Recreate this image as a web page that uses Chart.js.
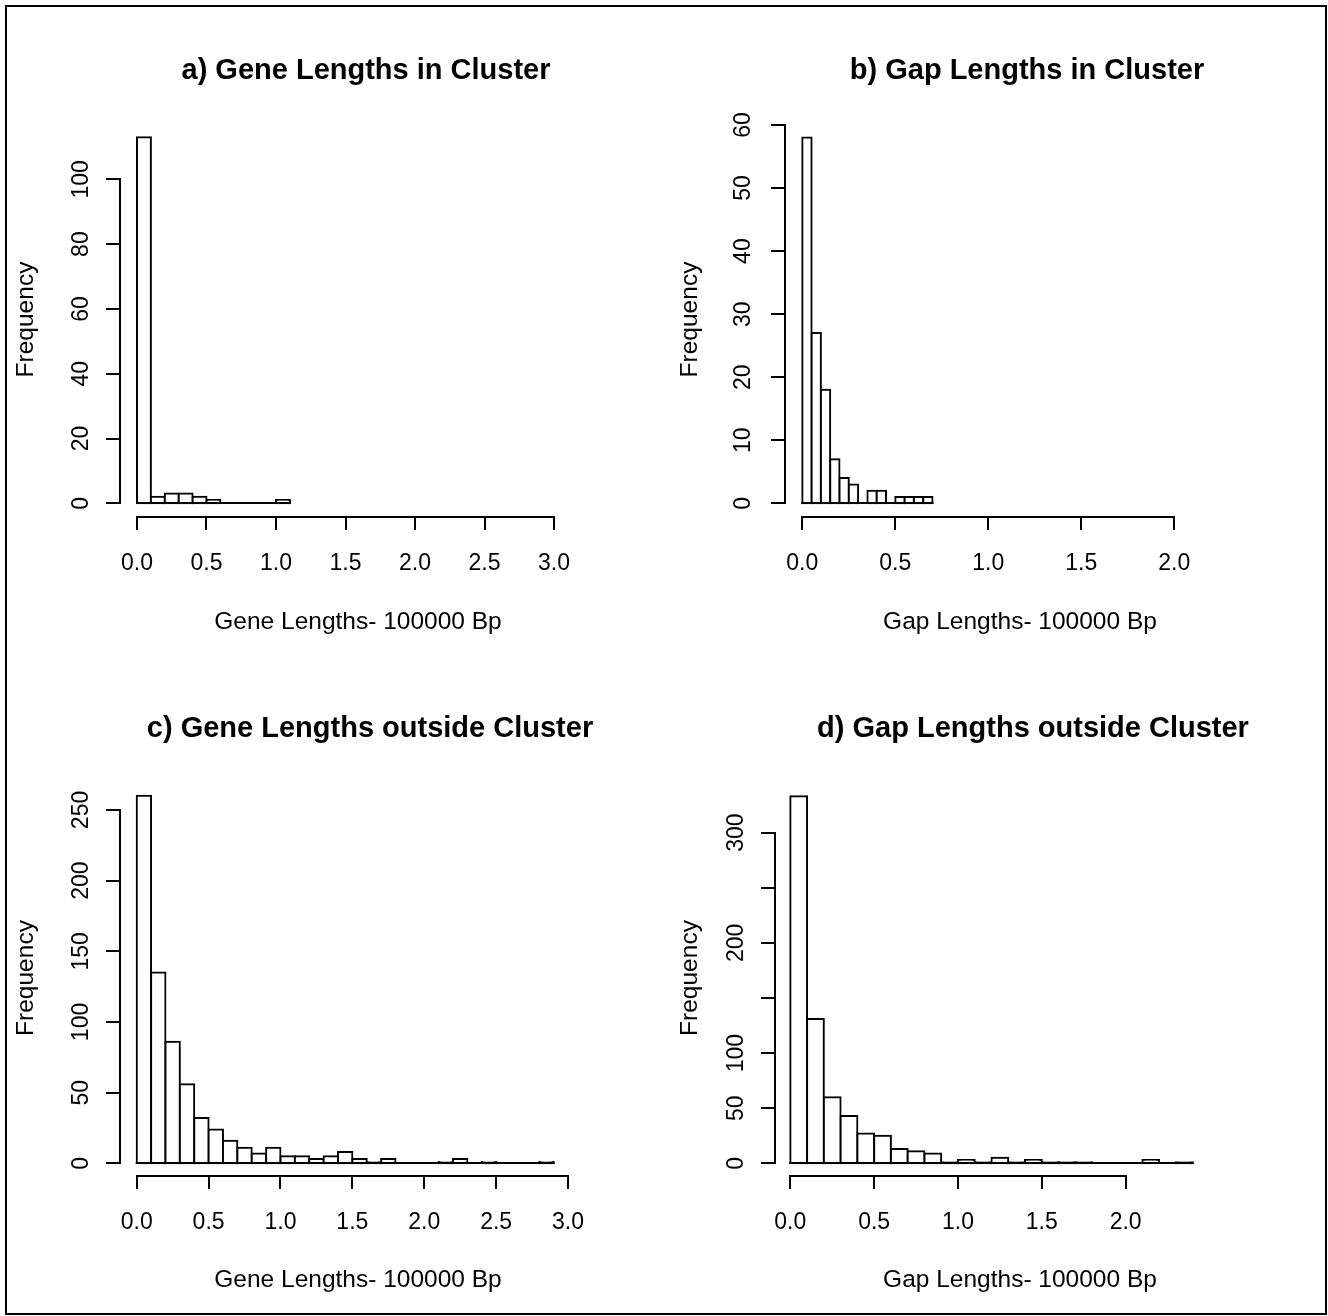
<!DOCTYPE html>
<html>
<head>
<meta charset="utf-8">
<script src="https://cdn.jsdelivr.net/npm/chart.js@4.4.0/dist/chart.umd.min.js"></script>
<style>
  html, body { margin: 0; padding: 0; background: #fff; }
  #page { position: relative; width: 1328px; height: 1316px; overflow: hidden; }
  #frame { position: absolute; left: 5px; top: 5px; width: 1318px; height: 1306px; border: 2px solid #000; }
  canvas { position: absolute; }
</style>
</head>
<body>
<div id="page">
  <div id="frame"></div>
  <canvas id="panelA" width="664" height="658" style="left:0;top:0"></canvas>
  <canvas id="panelB" width="664" height="658" style="left:664px;top:0"></canvas>
  <canvas id="panelC" width="664" height="658" style="left:0;top:658px"></canvas>
  <canvas id="panelD" width="664" height="658" style="left:664px;top:658px"></canvas>
</div>
<script>
// a) gene lengths in cluster (units of 100000 bp)
const geneInBreaks = [0, 0.1, 0.2, 0.3, 0.4, 0.5, 0.6, 0.7, 0.8, 0.9, 1.0, 1.1];
const geneInCounts = [113, 2, 3, 3, 2, 1, 0, 0, 0, 0, 1];
const geneInXTicks = [0, 0.5, 1, 1.5, 2, 2.5, 3];
const geneInXLabels = ['0.0', '0.5', '1.0', '1.5', '2.0', '2.5', '3.0'];
const geneInYTicks = [0, 20, 40, 60, 80, 100];
const geneInYLabels = ['0', '20', '40', '60', '80', '100'];

// b) gap lengths in cluster
const gapInBreaks = [0, 0.05, 0.1, 0.15, 0.2, 0.25, 0.3, 0.35, 0.4, 0.45, 0.5, 0.55, 0.6, 0.65, 0.7];
const gapInCounts = [58, 27, 18, 7, 4, 3, 0, 2, 2, 0, 1, 1, 1, 1];
const gapInXTicks = [0, 0.5, 1, 1.5, 2];
const gapInXLabels = ['0.0', '0.5', '1.0', '1.5', '2.0'];
const gapInYTicks = [0, 10, 20, 30, 40, 50, 60];
const gapInYLabels = ['0', '10', '20', '30', '40', '50', '60'];

// c) gene lengths outside cluster
const geneOutBreaks = [0, 0.1, 0.2, 0.3, 0.4, 0.5, 0.6, 0.7, 0.8, 0.9, 1.0, 1.1, 1.2, 1.3, 1.4,
  1.5, 1.6, 1.7, 1.8, 1.9, 2.0, 2.1, 2.2, 2.3, 2.4, 2.5, 2.6, 2.7, 2.8, 2.9];
const geneOutCounts = [260, 135, 86, 56, 32, 24, 16, 11, 7, 11, 5, 5, 3, 5, 8,
  3, 1, 3, 0, 0, 0, 1, 3, 0, 1, 0, 0, 0, 1];
const geneOutXTicks = [0, 0.5, 1, 1.5, 2, 2.5, 3];
const geneOutXLabels = ['0.0', '0.5', '1.0', '1.5', '2.0', '2.5', '3.0'];
const geneOutYTicks = [0, 50, 100, 150, 200, 250];
const geneOutYLabels = ['0', '50', '100', '150', '200', '250'];

// d) gap lengths outside cluster
const gapOutBreaks = [0, 0.1, 0.2, 0.3, 0.4, 0.5, 0.6, 0.7, 0.8, 0.9, 1.0, 1.1, 1.2, 1.3, 1.4,
  1.5, 1.6, 1.7, 1.8, 1.9, 2.0, 2.1, 2.2, 2.3, 2.4];
const gapOutCounts = [333, 131, 60, 43, 27, 25, 13, 11, 9, 1, 3, 1, 5, 1, 3,
  1, 1, 1, 0, 0, 0, 3, 0, 1];
const gapOutXTicks = [0, 0.5, 1, 1.5, 2];
const gapOutXLabels = ['0.0', '0.5', '1.0', '1.5', '2.0'];
const gapOutYTicks = [0, 50, 100, 150, 200, 250, 300];
const gapOutYLabels = ['0', '50', '100', '', '200', '', '300']; // R drops the crowded ones

const FONT = '"Liberation Sans", Arial, sans-serif';

// R base-graphics style axes: detached lines spanning first..last tick, outward ticks
function rAxes(cfg) {
  return {
    id: 'rAxes',
    afterDatasetsDraw(chart) {
      const { ctx, chartArea: area, scales: { x, y } } = chart;
      const snap = v => Math.round(v);
      ctx.save();
      ctx.strokeStyle = '#000';
      ctx.fillStyle = '#000';
      ctx.lineWidth = 2;

      // histogram baseline (zero-count bins show up as a flat line in R)
      const y0 = snap(y.getPixelForValue(0));
      ctx.beginPath();
      ctx.moveTo(x.getPixelForValue(cfg.breaks[0]) - 1, y0);
      ctx.lineTo(x.getPixelForValue(cfg.breaks[cfg.breaks.length - 1]) + 1, y0);
      ctx.stroke();

      // x axis
      const ax = snap(area.bottom);
      ctx.beginPath();
      ctx.moveTo(snap(x.getPixelForValue(cfg.xTicks[0])) - 1, ax);
      ctx.lineTo(snap(x.getPixelForValue(cfg.xTicks[cfg.xTicks.length - 1])) + 1, ax);
      cfg.xTicks.forEach(v => {
        const px = snap(x.getPixelForValue(v));
        ctx.moveTo(px, ax);
        ctx.lineTo(px, ax + 13);
      });
      ctx.stroke();
      ctx.font = '23px ' + FONT;
      ctx.textAlign = 'center';
      ctx.textBaseline = 'middle';
      cfg.xTicks.forEach((v, i) => ctx.fillText(cfg.xLabels[i], x.getPixelForValue(v), area.bottom + 47));

      // y axis
      const ay = snap(area.left);
      ctx.beginPath();
      ctx.moveTo(ay, snap(y.getPixelForValue(cfg.yTicks[0])) + 1);
      ctx.lineTo(ay, snap(y.getPixelForValue(cfg.yTicks[cfg.yTicks.length - 1])) - 1);
      cfg.yTicks.forEach(v => {
        const py = snap(y.getPixelForValue(v));
        ctx.moveTo(ay, py);
        ctx.lineTo(ay - 14, py);
      });
      ctx.stroke();
      cfg.yTicks.forEach((v, i) => {
        if (!cfg.yLabels[i]) return;
        ctx.save();
        ctx.translate(area.left - cfg.yLabelGap, y.getPixelForValue(v));
        ctx.rotate(-Math.PI / 2);
        ctx.fillText(cfg.yLabels[i], 0, 0);
        ctx.restore();
      });

      // axis titles and main title
      ctx.font = '24.5px ' + FONT;
      ctx.fillText(cfg.xTitle, cfg.midX, 622);
      ctx.save();
      ctx.translate(26, (area.top + area.bottom) / 2);
      ctx.rotate(-Math.PI / 2);
      ctx.fillText('Frequency', 0, 0);
      ctx.restore();
      ctx.font = 'bold 29px ' + FONT;
      ctx.fillText(cfg.title, cfg.titleX, 71);
      ctx.restore();
    }
  };
}

function histogram(id, cfg) {
  const bins = cfg.counts.map((c, i) => ({ x: (cfg.breaks[i] + cfg.breaks[i + 1]) / 2, y: c }));
  return new Chart(document.getElementById(id), {
    type: 'bar',
    data: {
      datasets: [{
        data: bins,
        backgroundColor: '#fff',
        borderColor: '#000',
        borderWidth: 2,
        borderSkipped: false,
        inflateAmount: 1,
        barPercentage: 1,
        categoryPercentage: 1
      }]
    },
    options: {
      responsive: false,
      animation: false,
      events: [],
      layout: { padding: cfg.pad },
      plugins: { legend: { display: false }, tooltip: { enabled: false } },
      scales: {
        x: {
          type: 'linear', display: false, offset: false,
          min: cfg.xRange[0], max: cfg.xRange[1],
          afterBuildTicks: s => { s.ticks = cfg.xTicks.map(v => ({ value: v })); }
        },
        y: {
          type: 'linear', display: false,
          min: cfg.yRange[0], max: cfg.yRange[1],
          afterBuildTicks: s => { s.ticks = cfg.yTicks.map(v => ({ value: v })); }
        }
      }
    },
    plugins: [rAxes(cfg)]
  });
}

histogram('panelA', {
  title: 'a) Gene Lengths in Cluster', xTitle: 'Gene Lengths- 100000 Bp', midX: 358, titleX: 366,
  breaks: geneInBreaks, counts: geneInCounts,
  xTicks: geneInXTicks, xLabels: geneInXLabels, yTicks: geneInYTicks, yLabels: geneInYLabels,
  pad: { left: 120, top: 122, right: 24, bottom: 141 }, yLabelGap: 38,
  xRange: [-0.1223, 3.6187], yRange: [-4.228, 117.685]
});
histogram('panelB', {
  title: 'b) Gap Lengths in Cluster', xTitle: 'Gap Lengths- 100000 Bp', midX: 356, titleX: 363,
  breaks: gapInBreaks, counts: gapInCounts,
  xTicks: gapInXTicks, xLabels: gapInXLabels, yTicks: gapInYTicks, yLabels: gapInYLabels,
  pad: { left: 121, top: 122, right: 24, bottom: 141 }, yLabelGap: 41,
  xRange: [-0.093, 2.6973], yRange: [-2.173, 60.476]
});
histogram('panelC', {
  title: 'c) Gene Lengths outside Cluster', xTitle: 'Gene Lengths- 100000 Bp', midX: 358, titleX: 370,
  breaks: geneOutBreaks, counts: geneOutCounts,
  xTicks: geneOutXTicks, xLabels: geneOutXLabels, yTicks: geneOutYTicks, yLabels: geneOutYLabels,
  pad: { left: 120, top: 122, right: 24, bottom: 140 }, yLabelGap: 38,
  xRange: [-0.1162, 3.5007], yRange: [-8.986, 271.21]
});
histogram('panelD', {
  title: 'd) Gap Lengths outside Cluster', xTitle: 'Gap Lengths- 100000 Bp', midX: 356, titleX: 369,
  breaks: gapOutBreaks, counts: gapOutCounts,
  xTicks: gapOutXTicks, xLabels: gapOutXLabels, yTicks: gapOutYTicks, yLabels: gapOutYLabels,
  pad: { left: 111, top: 122, right: 24, bottom: 140 }, yLabelGap: 38,
  xRange: [-0.09125, 3.0638], yRange: [-11.52, 347.8]
});
</script>
</body>
</html>
